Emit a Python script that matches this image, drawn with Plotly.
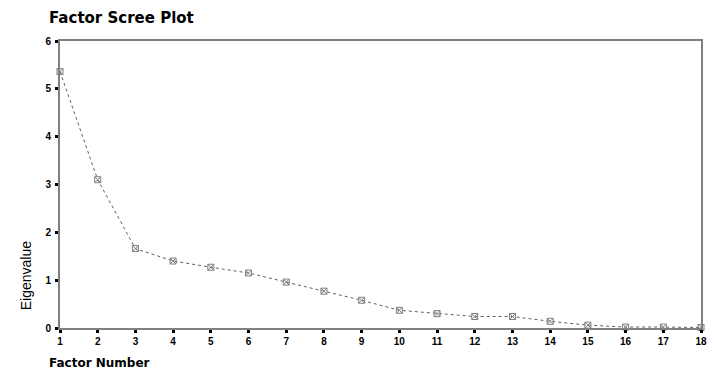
import plotly.graph_objects as go

# Scree plot data: eigenvalue of each extracted factor
factor_number = list(range(1, 19))
eigenvalues = [5.36, 3.10, 1.66, 1.40, 1.27, 1.15, 0.96, 0.77, 0.58,
               0.37, 0.30, 0.24, 0.24, 0.14, 0.06, 0.02, 0.02, 0.01]

x_ticks = list(range(1, 19))
y_ticks = [0, 1, 2, 3, 4, 5, 6]

FONT = "Liberation Sans, Arial, sans-serif"
WIDE_FONT = "DejaVu Sans, Verdana, sans-serif"

fig = go.Figure()
fig.add_trace(go.Scatter(
    x=factor_number,
    y=eigenvalues,
    mode="lines+markers",
    line=dict(color="#606060", width=1, dash="dot"),
    marker=dict(symbol="square-x-open", size=6,
                color="#808080", line=dict(width=1, color="#808080")),
    cliponaxis=False,
    showlegend=False,
))

axis_common = dict(
    showgrid=False,
    zeroline=False,
    showline=True,
    linecolor="#808080",
    linewidth=2,
    mirror=True,
    ticks="outside",
    ticklen=3,
    tickwidth=3,
    tickcolor="#000000",
    tickfont=dict(family=FONT, size=10, color="#000000", weight="bold"),
)

fig.update_xaxes(range=[1, 18], tickvals=x_ticks, ticktext=[str(v) for v in x_ticks],
                 **axis_common)
fig.update_yaxes(range=[0, 6], tickvals=y_ticks, ticktext=[str(v) for v in y_ticks],
                 ticklabelstandoff=2, **axis_common)

# pixel helpers for the plot area (left 60, right 707, top 41, bottom 328)
def px_x(p):
    return (p - 60) / 647

def px_y(p):
    return (328 - p) / 287

fig.update_layout(
    width=714,
    height=371,
    margin=dict(l=60, r=7, t=41, b=43),
    paper_bgcolor="white",
    plot_bgcolor="white",
    title=dict(
        text="Factor Scree Plot",
        font=dict(family=WIDE_FONT, size=15, color="#000000", weight="bold"),
        xref="container", yref="container",
        x=49 / 714, y=1 - 18 / 371,
        xanchor="left", yanchor="middle",
    ),
    annotations=[
        dict(text="Eigenvalue", textangle=-90, showarrow=False,
             xref="paper", yref="paper", x=px_x(26), y=px_y(276),
             xanchor="center", yanchor="middle",
             font=dict(family=FONT, size=14, color="#000000")),
        dict(text="Factor Number", showarrow=False,
             xref="paper", yref="paper", x=px_x(47), y=px_y(363),
             xanchor="left", yanchor="middle",
             font=dict(family=WIDE_FONT, size=12, color="#000000", weight="bold")),
    ],
)

fig.write_html("out.html")
